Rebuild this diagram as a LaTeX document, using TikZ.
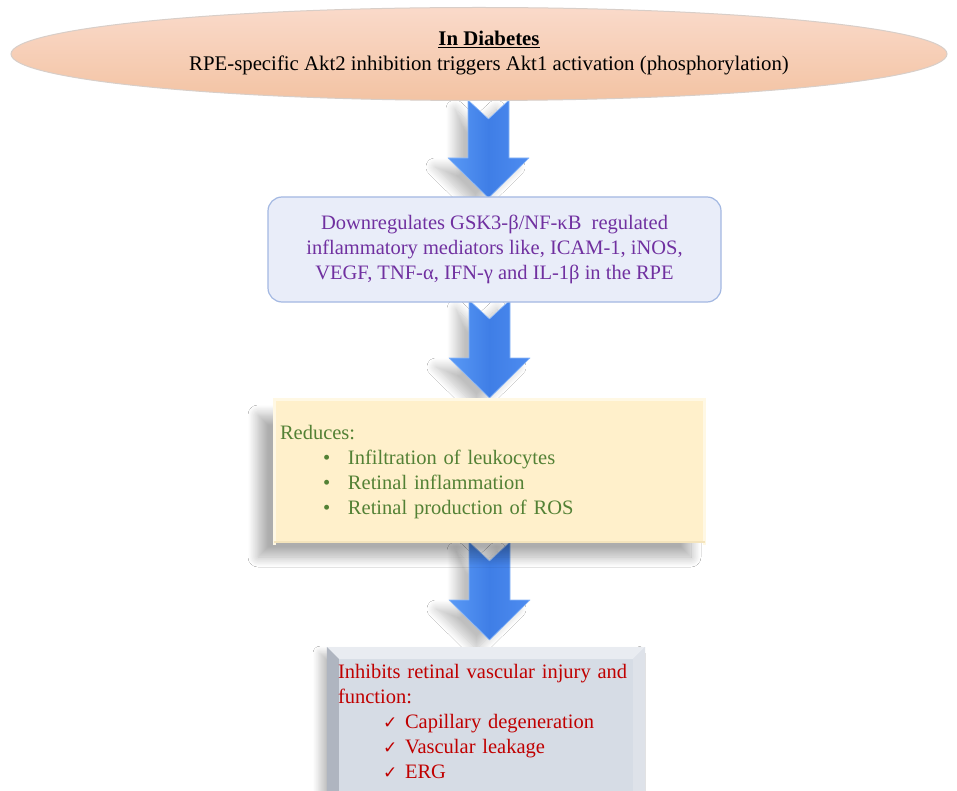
\documentclass[tikz,border=0pt]{standalone}
\usepackage{fontspec}
\setmainfont{Liberation Serif}
\newfontfamily\symfont{DejaVu Sans}
\usetikzlibrary{shapes.geometric,shadows.blur}
\definecolor{peachtop}{HTML}{FADACA}
\definecolor{peachbot}{HTML}{F3C3A3}
\definecolor{peachedge}{HTML}{D8CEC8}
\definecolor{lavfill}{HTML}{E9EDF9}
\definecolor{lavedge}{HTML}{A3B8E2}
\definecolor{creamfill}{HTML}{FFF0CB}
\definecolor{creamlight}{HTML}{FFF8E4}
\definecolor{creamdark}{HTML}{F4E4BC}
\definecolor{grayfill}{HTML}{D6DCE5}
\definecolor{graylight}{HTML}{E9ECF1}
\definecolor{graydark}{HTML}{AFB5C0}
\definecolor{grayright}{HTML}{DEE2E9}
\definecolor{purpletext}{HTML}{7030A0}
\definecolor{greentext}{HTML}{538135}
\definecolor{redtext}{HTML}{C00000}
\definecolor{arrowL}{HTML}{5A9AF6}
\definecolor{arrowM}{HTML}{3F7EE6}
\definecolor{arrowR}{HTML}{4E8CF0}
\tikzset{
  maintext/.style={font=\fontsize{20.5}{25}\selectfont},
  blockarrow/.pic={
    \path[fill=white, blur shadow={shadow xshift=-13pt, shadow yshift=-9pt, shadow blur radius=9pt, shadow blur steps=14, shadow opacity=25}]
      (-20.5,0) -- (0,19) -- (20.5,0) -- (20.5,58) -- (40.5,58) -- (0,98) -- (-40.5,58) -- (-20.5,58) -- cycle;
    \shade[left color=arrowL, right color=arrowR, middle color=arrowM]
      (-20.5,0) -- (0,19) -- (20.5,0) -- (20.5,58) -- (40.5,58) -- (0,98) -- (-40.5,58) -- (-20.5,58) -- cycle;
    \draw[arrowL!70!white, line width=0.6pt, line join=round]
      (-20.5,0) -- (0,19) -- (20.5,0) -- (20.5,58) -- (40.5,58) -- (0,98) -- (-40.5,58) -- (-20.5,58) -- cycle;
  },
  ellbox/.style={ellipse, minimum width=936pt, minimum height=93pt, inner sep=0pt,
    top color=peachtop, bottom color=peachbot, draw=peachedge, line width=1pt},
  elltext/.style={align=center, inner sep=0pt, font=\fontsize{20.8}{25}\selectfont},
  lavbox/.style={rectangle, rounded corners=14pt, minimum width=453pt, minimum height=105pt,
    fill=lavfill, draw=lavedge, line width=1.2pt, align=center, text=purpletext, maintext},
  creambox/.style={rectangle, minimum width=433pt, minimum height=142pt, fill=creamfill,
    text width=419pt, inner xsep=7pt, align=left, text=greentext, maintext,
    blur shadow={shadow xshift=-15pt, shadow yshift=-14pt, shadow blur radius=10pt, shadow blur steps=16, shadow opacity=32}},
  graybox/.style={rectangle, minimum width=318pt, minimum height=160pt, fill=grayfill, inner sep=0pt,
    blur shadow={shadow xshift=-7pt, shadow yshift=-6pt, shadow blur radius=7pt, shadow blur steps=12, shadow opacity=25}},
  graytext/.style={maintext, text=redtext, text width=296pt, align=left, inner sep=0pt},
}
\newcommand{\chk}{\makebox[22pt][l]{\symfont\fontsize{17}{17}\selectfont ✓}}
\newcommand{\blt}{\makebox[25pt][l]{•}}
\begin{document}
\begin{tikzpicture}[x=1pt,y=-1pt]
\useasboundingbox[fill=white] (0,0) rectangle (957,791);
\begin{scope}
\clip (0,0) rectangle (957,791);
% arrows (behind boxes)
\pic at (488.5,100) {blockarrow};
\pic at (489.5,300) {blockarrow};
\pic at (489.5,542) {blockarrow};

% top ellipse
\node[ellbox] (top) at (479,54) {};
\node[elltext] (toptext) at (489,53)
  {\underline{\textbf{In Diabetes}}\\RPE-specific Akt2 inhibition triggers Akt1 activation (phosphorylation)};

% box 2
\node[lavbox] (down) at (494.5,249.5)
  {Downregulates GSK3-β/NF-κB\ \ regulated\\inflammatory mediators like, ICAM-1, iNOS,\\VEGF, TNF-α, IFN-γ and IL-1β in the RPE};

% box 3
\node[creambox] (reduce) at (489.5,472)
  {Reduces:\\
   \hspace*{43pt}\blt Infiltration of leukocytes\\
   \hspace*{43pt}\blt Retinal inflammation\\
   \hspace*{43pt}\blt Retinal production of ROS};
\draw[creamlight, line width=3pt] ([xshift=1.5pt,yshift=-1.5pt]reduce.south west) -- ([xshift=1.5pt,yshift=1.5pt]reduce.north west) -- ([xshift=-1.5pt,yshift=1.5pt]reduce.north east) -- ([xshift=-1.5pt,yshift=-1.5pt]reduce.south east);
\draw[creamdark, line width=2pt] ([xshift=-1pt,yshift=1pt]reduce.south east) -- ([xshift=1pt,yshift=1pt]reduce.south west);

% box 4
\node[graybox, anchor=north] (inhibit) at (486,647) {};
\fill[graylight] (inhibit.north west) -- (inhibit.north east) -- ([xshift=-12pt,yshift=-12pt]inhibit.north east) -- ([xshift=12pt,yshift=-12pt]inhibit.north west) -- cycle;
\fill[graydark] (inhibit.north west) -- ([xshift=12pt,yshift=-12pt]inhibit.north west) -- ([xshift=12pt,yshift=12pt]inhibit.south west) -- (inhibit.south west) -- cycle;
\fill[grayright] (inhibit.north east) -- ([xshift=-12pt,yshift=-12pt]inhibit.north east) -- ([xshift=-12pt,yshift=12pt]inhibit.south east) -- (inhibit.south east) -- cycle;
\node[graytext, anchor=north west] (inhibittext) at ([xshift=11pt,yshift=-17pt]inhibit.north west)
  {Inhibits retinal vascular injury and\\function:\\
   \hspace*{45pt}\chk Capillary degeneration\\
   \hspace*{45pt}\chk Vascular leakage\\
   \hspace*{45pt}\chk ERG};
\end{scope}
\end{tikzpicture}
\end{document}
